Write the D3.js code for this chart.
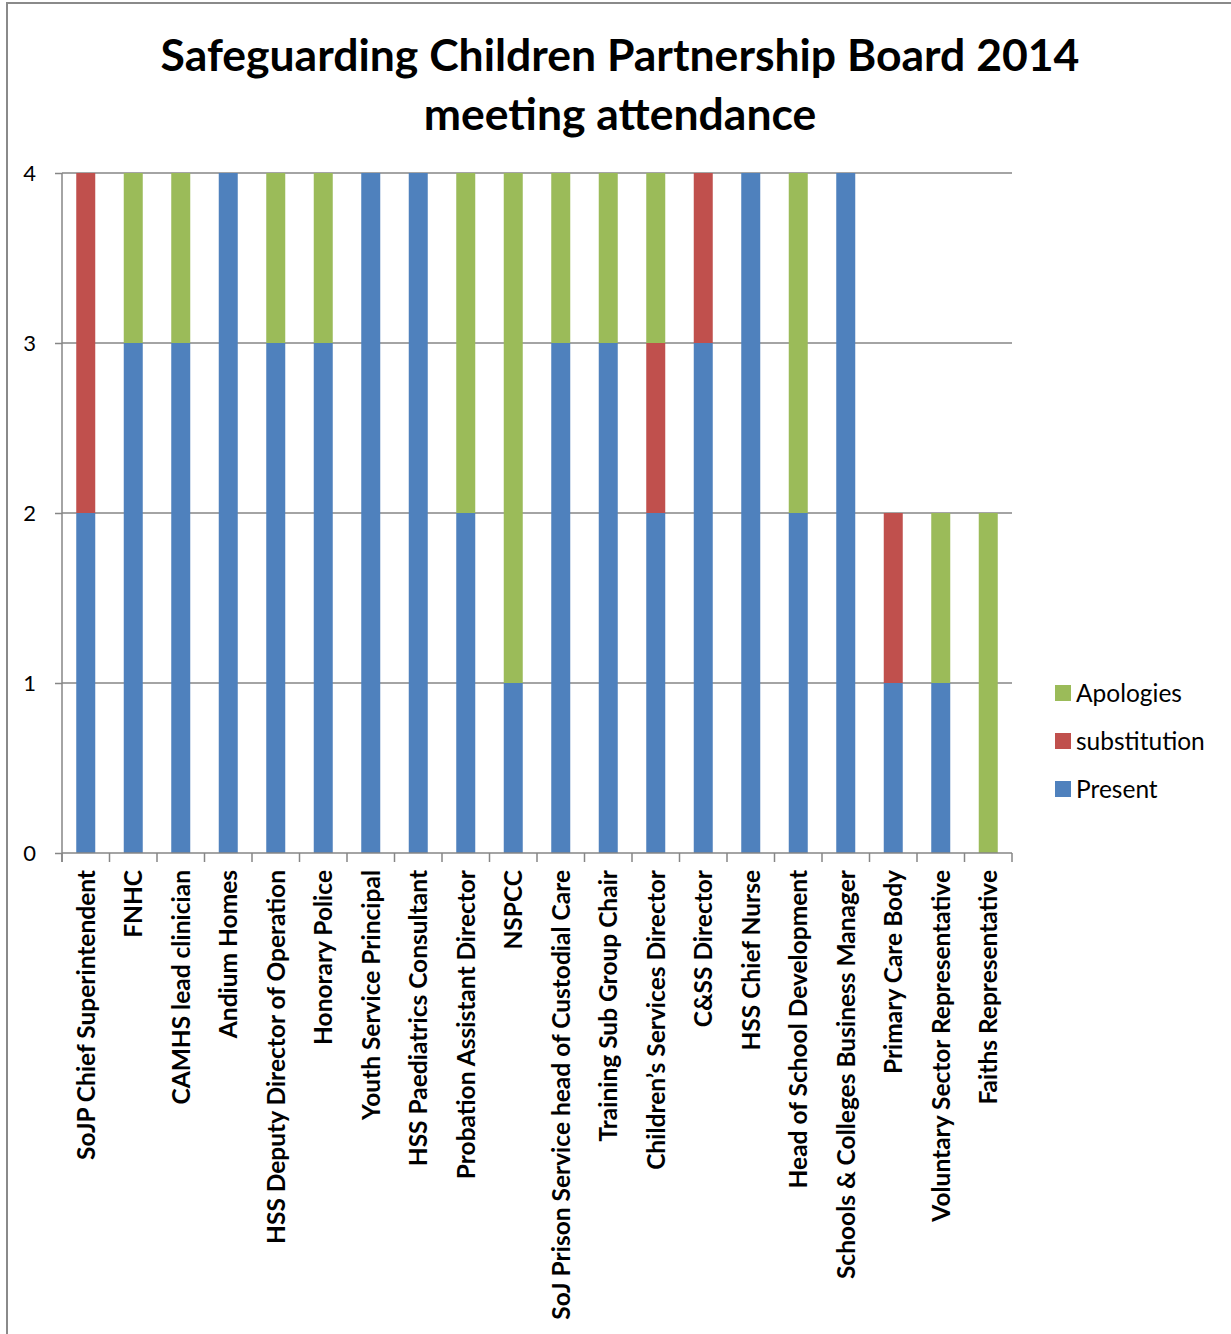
<!DOCTYPE html>
<html>
<head>
<meta charset="utf-8">
<script src="https://cdn.jsdelivr.net/npm/d3@7"></script>
<style>
  html, body { margin: 0; padding: 0; background: #fff; }
  svg { display: block; font-family: Lato, "Liberation Sans", sans-serif; }
</style>
</head>
<body>
<svg id="chart" width="1231" height="1334"></svg>
<script>
// Board members, in the order shown along the x axis
const members = [
  "SoJP Chief Superintendent",
  "FNHC",
  "CAMHS lead clinician",
  "Andium Homes",
  "HSS Deputy Director of Operation",
  "Honorary Police",
  "Youth Service Principal",
  "HSS Paediatrics Consultant",
  "Probation Assistant Director",
  "NSPCC",
  "SoJ Prison Service head of Custodial Care",
  "Training Sub Group Chair",
  "Children\u2019s Services Director",
  "C&SS Director",
  "HSS Chief Nurse",
  "Head of School Development",
  "Schools & Colleges Business Manager",
  "Primary Care Body",
  "Voluntary Sector Representative",
  "Faiths Representative"
];

// Meetings per member, by attendance type
const present      = [2, 3, 3, 4, 3, 3, 4, 4, 2, 1, 3, 3, 2, 3, 4, 2, 4, 1, 1, 0];
const substitution = [2, 0, 0, 0, 0, 0, 0, 0, 0, 0, 0, 0, 1, 1, 0, 0, 0, 1, 0, 0];
const apologies    = [0, 1, 1, 0, 1, 1, 0, 0, 2, 3, 1, 1, 1, 0, 0, 2, 0, 0, 1, 2];

const seriesNames = ["Present", "substitution", "Apologies"];
const yTicks = [0, 1, 2, 3, 4];

const titleLines = ["Safeguarding Children Partnership Board 2014", "meeting attendance"];

const colors = { "Present": "#4F81BD", "substitution": "#C0504D", "Apologies": "#9BBB59" };

const rows = members.map((m, i) => ({
  member: m,
  "Present": present[i],
  "substitution": substitution[i],
  "Apologies": apologies[i]
}));

const svg = d3.select("#chart");

// Outer chart frame
svg.append("rect")
  .attr("x", 7).attr("y", 3)
  .attr("width", 1240).attr("height", 1350)
  .attr("fill", "none")
  .attr("stroke", "#8a8a8a")
  .attr("stroke-width", 2);

// Title
svg.append("g")
  .selectAll("text")
  .data(titleLines)
  .join("text")
  .attr("x", 620)
  .attr("y", (d, i) => 71 + i * 59)
  .attr("text-anchor", "middle")
  .attr("font-size", 44.5)
  .attr("font-weight", "bold")
  .attr("fill", "#000")
  .text(d => d);

const plot = { left: 62, right: 1012, top: 173, bottom: 853 };

const x = d3.scaleBand()
  .domain(members)
  .range([plot.left, plot.right])
  .paddingInner(0.6)
  .paddingOuter(0.3);

const y = d3.scaleLinear()
  .domain([0, 4])
  .range([plot.bottom, plot.top]);

// Horizontal gridlines
svg.append("g")
  .selectAll("line")
  .data(yTicks.filter(t => t > 0))
  .join("line")
  .attr("x1", plot.left).attr("x2", plot.right)
  .attr("y1", d => y(d)).attr("y2", d => y(d))
  .attr("stroke", "#868686")
  .attr("stroke-width", 1.5);

// Stacked bars
const stack = d3.stack().keys(seriesNames)(rows);

svg.append("g")
  .selectAll("g")
  .data(stack)
  .join("g")
  .attr("fill", d => colors[d.key])
  .selectAll("rect")
  .data(d => d)
  .join("rect")
  .attr("x", d => x(d.data.member))
  .attr("width", x.bandwidth())
  .attr("y", d => y(d[1]))
  .attr("height", d => y(d[0]) - y(d[1]));

// Y axis
const yAxis = svg.append("g")
  .attr("transform", `translate(${plot.left},0)`)
  .call(d3.axisLeft(y).tickValues(yTicks).tickFormat(d3.format("d")).tickSize(7).tickPadding(19));
yAxis.selectAll("line, path").attr("stroke", "#868686").attr("stroke-width", 1.5);
yAxis.select(".domain").attr("d", `M0,${plot.top}V${plot.bottom + 9}`);
yAxis.selectAll("text")
  .attr("font-size", 22)
  .attr("font-family", "Lato, 'Liberation Sans', sans-serif")
  .attr("fill", "#000");

// X axis: tick marks at category boundaries, rotated labels
const xAxisG = svg.append("g");
xAxisG.append("line")
  .attr("x1", plot.left).attr("x2", plot.right)
  .attr("y1", plot.bottom).attr("y2", plot.bottom)
  .attr("stroke", "#868686").attr("stroke-width", 1.5);

const step = x.step();
const boundaries = d3.range(members.length + 1).map(i => plot.left + i * step);
xAxisG.selectAll("line.tick")
  .data(boundaries)
  .join("line")
  .attr("class", "tick")
  .attr("x1", d => d).attr("x2", d => d)
  .attr("y1", plot.bottom).attr("y2", plot.bottom + 9)
  .attr("stroke", "#868686").attr("stroke-width", 1.5);

xAxisG.selectAll("text")
  .data(members)
  .join("text")
  .attr("transform", d => `translate(${x(d) + x.bandwidth() / 2 + 9},${plot.bottom + 17}) rotate(-90)`)
  .attr("text-anchor", "end")
  .attr("font-size", 24.5)
  .attr("font-weight", "bold")
  .attr("fill", "#000")
  .text(d => d);

// Legend
const legendOrder = ["Apologies", "substitution", "Present"];
const legend = svg.append("g")
  .selectAll("g")
  .data(legendOrder)
  .join("g")
  .attr("transform", (d, i) => `translate(1055,${693 + i * 48})`);
legend.append("rect")
  .attr("x", 0).attr("y", -8)
  .attr("width", 16).attr("height", 16)
  .attr("fill", d => colors[d]);
legend.append("text")
  .attr("x", 21).attr("y", 9)
  .attr("font-size", 24.5)
  .attr("fill", "#000")
  .text(d => d);
</script>
</body>
</html>
